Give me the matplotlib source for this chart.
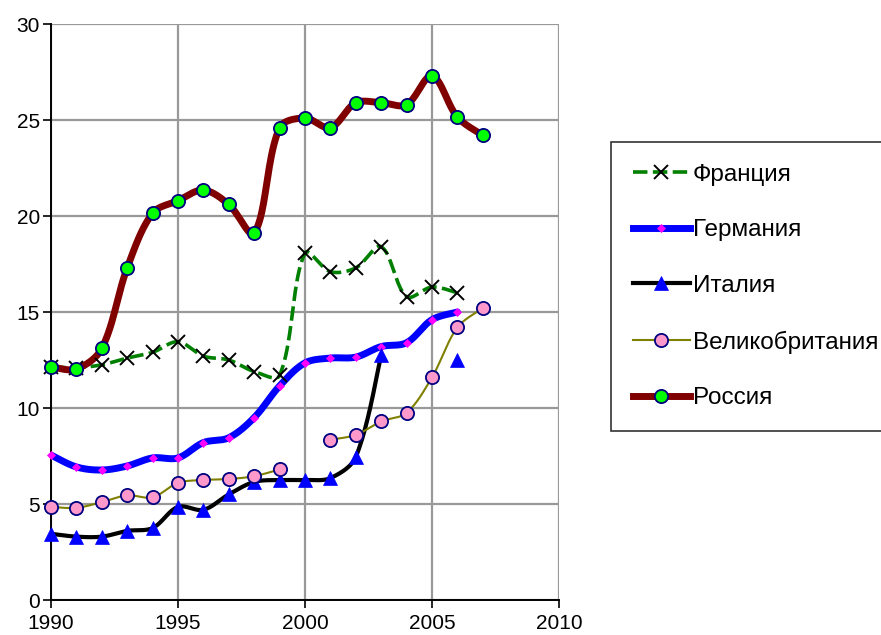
import matplotlib
matplotlib.use('Agg')
import matplotlib.pyplot as plt
from matplotlib.lines import Line2D
import numpy as np

plt.rcParams['font.family'] = ['Liberation Sans', 'DejaVu Sans']

years = list(range(1990, 2008))
nan = np.nan

france = [12.14, 12.1, 12.25, 12.6, 12.9, 13.45, 12.7, 12.5, 11.9, 11.7,
          18.07, 17.1, 17.3, 18.4, 15.8, 16.3, 16.0, nan]
germany = [7.55, 6.93, 6.77, 6.98, 7.4, 7.4, 8.2, 8.45, 9.5, 11.15,
           12.35, 12.6, 12.65, 13.2, 13.4, 14.6, 15.0, nan]
italy = [3.45, 3.3, 3.3, 3.6, 3.75, 4.85, 4.7, 5.5, 6.15, 6.25,
         6.25, 6.35, 7.45, 12.75, nan, nan, 12.5, nan]
uk = [4.85, 4.8, 5.1, 5.45, 5.35, 6.1, 6.25, 6.3, 6.45, 6.8,
      nan, 8.35, 8.6, 9.3, 9.75, 11.6, 14.2, 15.2]
russia = [12.14, 12.03, 13.1, 17.3, 20.15, 20.8, 21.35, 20.6, 19.1, 24.6,
          25.1, 24.6, 25.9, 25.9, 25.8, 27.3, 25.15, 24.2]

labels = ['Франция', 'Германия', 'Италия', 'Великобритания', 'Россия']

# pixel scale of the plot area (px per year, px per unit) used for smoothing
KX, KY = 25.4, 19.2


def smooth(xs, ys, n=24):
    # Excel-like smoothed line, Bezier segments, split at gaps
    xs = np.asarray(xs, float)
    ys = np.asarray(ys, float)
    out_x, out_y = [], []
    ok = ~np.isnan(ys)
    i = 0
    while i < len(ys):
        if not ok[i]:
            i += 1
            continue
        j = i
        while j + 1 < len(ys) and ok[j + 1]:
            j += 1
        if j > i:
            P = np.column_stack([xs[i:j + 1] * KX, ys[i:j + 1] * KY])
            m = len(P)
            tang = np.zeros_like(P)
            for k in range(m):
                a = P[max(k - 1, 0)]
                b = P[min(k + 1, m - 1)]
                tang[k] = b - a
            t = np.linspace(0, 1, n)
            for k in range(m - 1):
                p1, p2 = P[k], P[k + 1]
                d12 = np.hypot(*(p2 - p1))
                d01 = np.hypot(*(p1 - P[k - 1])) if k > 0 else 0.0
                d23 = np.hypot(*(P[k + 2] - p2)) if k + 2 < m else 0.0
                f1 = d12 / (d01 + d12) if k > 0 else 0.5
                f2 = d12 / (d12 + d23) if k + 2 < m else 0.5
                c1 = p1 + tang[k] * f1 / 3
                c2 = p2 - tang[k + 1] * f2 / 3
                seg = ((1 - t)[:, None] ** 3 * p1 + 3 * ((1 - t) ** 2 * t)[:, None] * c1
                       + 3 * ((1 - t) * t ** 2)[:, None] * c2 + (t ** 3)[:, None] * p2)
                out_x.extend(seg[:, 0] / KX)
                out_y.extend(seg[:, 1] / KY)
        out_x.append(nan)
        out_y.append(nan)
        i = j + 1
    return out_x, out_y


fig = plt.figure(figsize=(8.81, 6.35), dpi=100)
ax = fig.add_axes([51 / 881, 35 / 635, 508 / 881, 576 / 635])

styles = [
    dict(color='#008000', lw=2.6, ls=(0, (4, 1.5)), marker='x', mfc='black', mec='black', ms=10, mew=1.4),
    dict(color='#0000FF', lw=5, ls='-', marker='D', mfc='#FF00FF', mec='#FF00FF', ms=4.5, mew=0.5),
    dict(color='#000000', lw=3, ls='-', marker='^', mfc='#0000FF', mec='#0000FF', ms=10, mew=0.5),
    dict(color='#808000', lw=1.5, ls='-', marker='o', mfc='#FF99CC', mec='#000080', ms=9.5, mew=1.3),
    dict(color='#800000', lw=5, ls='-', marker='o', mfc='#00FF00', mec='#000080', ms=9.5, mew=1.3),
]
series = [france, germany, italy, uk, russia]

for ys, st in zip(series, styles):
    sx, sy = smooth(years, ys)
    ax.plot(sx, sy, color=st['color'], lw=st['lw'], ls=st['ls'], zorder=3,
            solid_capstyle='round', dash_capstyle='butt')
for ys, st in zip(series, styles):
    ax.plot(years, ys, ls='none', marker=st['marker'], mfc=st['mfc'], mec=st['mec'],
            ms=st['ms'], mew=st['mew'], zorder=4, clip_on=False)

ax.set_xlim(1990, 2010)
ax.set_ylim(0, 30)
ax.set_xticks(range(1990, 2011, 5))
ax.set_yticks(range(0, 31, 5))
ax.grid(True, color='#999999', lw=1.6)
ax.set_axisbelow(True)
for s in ['top', 'right']:
    ax.spines[s].set_visible(False)
for s in ['left', 'bottom']:
    ax.spines[s].set_linewidth(1.4)
ax.tick_params(direction='out', length=6, width=1.2, labelsize=15, pad=2)
ax.tick_params(axis='x', pad=4)

handles = [Line2D([], [], color=st['color'], lw=st['lw'], ls=st['ls'], marker=st['marker'],
                  mfc=st['mfc'], mec=st['mec'], ms=st['ms'], mew=st['mew']) for st in styles]
leg = fig.legend(handles, labels, loc='upper left', bbox_to_anchor=(611 / 881, 1 - 142 / 635),
                 fontsize=17.5, frameon=True, fancybox=False, handlelength=2.35,
                 labelspacing=1.38, borderpad=0.9, handletextpad=0.12, borderaxespad=0)
leg.get_frame().set_edgecolor('black')
leg.get_frame().set_linewidth(1.2)

fig.savefig('out.png', dpi=100)
